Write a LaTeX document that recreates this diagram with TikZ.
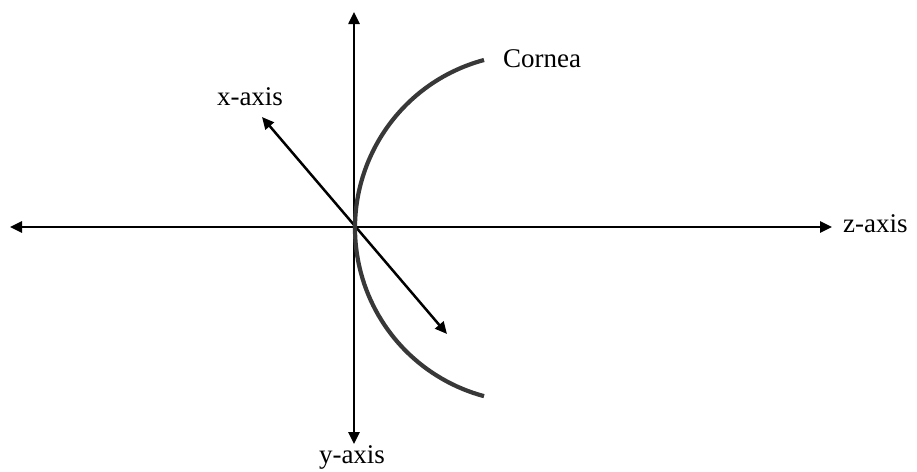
\documentclass[tikz,border=0pt]{standalone}
\usepackage{fontspec}
\setmainfont{Liberation Serif}
\usetikzlibrary{arrows.meta}
\begin{document}
\begin{tikzpicture}[x=1pt,y=-1pt,
  axis/.style={line width=2.5pt,draw=black,{Triangle[length=12pt,width=11pt]}-{Triangle[length=12pt,width=11pt]}},
  cornea/.style={line width=4.2pt,draw=black!78},
  lbl/.style={font=\fontsize{27}{32}\selectfont,inner sep=0pt,anchor=base}]
\useasboundingbox (0,0) rectangle (917,471);
\coordinate (zl) at (10,227);
\coordinate (zr) at (832,227);
\coordinate (yt) at (354,12);
\coordinate (yb) at (354,444);
\coordinate (xt) at (262,117);
\coordinate (xb) at (447,334);
\coordinate (ctop) at (484,60);
\draw[axis] (zl) -- (zr);
\draw[axis] (yt) -- (yb);
\draw[axis] (xt) -- (xb);
\draw[cornea] (ctop) arc[start angle=-105,end angle=-255,radius=174] coordinate (cbot);
\node[lbl,anchor=base west] (cl) at (503,67) {Cornea};
\node[lbl] (xl) at (250,105) {x-axis};
\node[lbl,anchor=base west] (zlab) at (843,232) {z-axis};
\node[lbl] (yl) at (352,463) {y-axis};
\end{tikzpicture}
\end{document}
